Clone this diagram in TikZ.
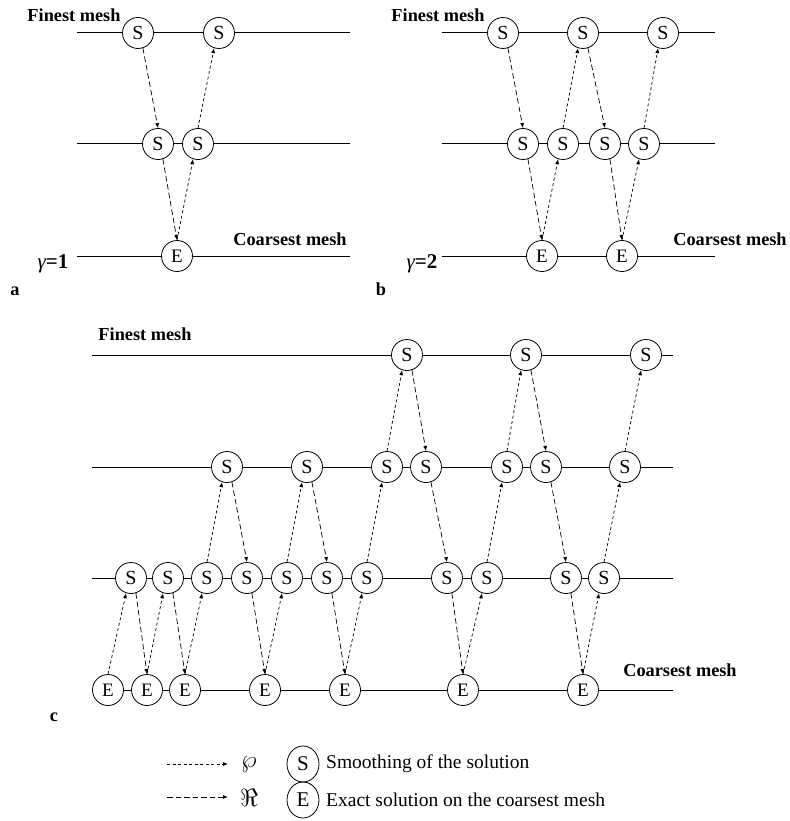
\documentclass[tikz,border=0pt]{standalone}
\usepackage{fontspec}
\setmainfont{Liberation Serif}
\usetikzlibrary{arrows.meta,shapes.geometric}
\begin{document}
\begin{tikzpicture}[x=1pt,y=-1pt,
  mesh/.style={line width=1pt},
  snode/.style={circle,draw,line width=0.8pt,fill=white,minimum size=31pt,inner sep=0pt,font=\fontsize{20}{20}\selectfont},
  enode/.style={snode,font=\fontsize{19}{19}\selectfont},
  pro/.style={line width=0.7pt,dash pattern=on 3pt off 2.5pt,-{Latex[length=5pt,width=4pt]}},
  res/.style={line width=0.7pt,dash pattern=on 5.5pt off 3pt,-{Latex[length=5pt,width=4pt]}},
  lbl/.style={font=\fontsize{18.3}{20}\selectfont\bfseries,anchor=base,inner sep=0pt},
  glbl/.style={font=\fontsize{21}{22}\selectfont\bfseries,anchor=base,inner sep=0pt},
  leg/.style={font=\fontsize{19.5}{21}\selectfont,anchor=west,inner sep=0pt},
  lellipse/.style={ellipse,draw,line width=0.8pt,minimum width=32pt,minimum height=36pt,inner sep=0pt,font=\fontsize{21}{21}\selectfont},
  sym/.style={font=\fontsize{27}{28}\selectfont,inner sep=0pt}
]
\useasboundingbox (0,0) rectangle (789,821);
\newcommand{\dn}[2]{\draw[res] (#1.-72) -- (#2.north);}
\newcommand{\up}[2]{\draw[pro] (#1.north) -- (#2.-108);}

% ---------- panel a ----------
\draw[mesh] (77,33) -- (350,33);
\draw[mesh] (77,144) -- (350,144);
\draw[mesh] (77,256) -- (350,256);
\node[snode] (a1) at (138,33) {S};
\node[snode] (a2) at (219,33) {S};
\node[snode] (a3) at (158,144) {S};
\node[snode] (a4) at (198,144) {S};
\node[enode] (a5) at (177,256) {E};
\dn{a1}{a3} \dn{a3}{a5} \up{a5}{a4} \up{a4}{a2}
\node[lbl] (fa) at (74,21.5) {Finest mesh};
\node[lbl] (ca) at (290,245) {Coarsest mesh};
\node[glbl] (ga) at (53,268) {{\mdseries\itshape γ}=1};
\node[lbl] (la) at (15,295) {a};

% ---------- panel b ----------
\draw[mesh] (442,33) -- (715,33);
\draw[mesh] (442,144) -- (715,144);
\draw[mesh] (442,256) -- (715,256);
\node[snode] (b1) at (503,33) {S};
\node[snode] (b2) at (583,33) {S};
\node[snode] (b3) at (663,33) {S};
\node[snode] (b4) at (523,144) {S};
\node[snode] (b5) at (563,144) {S};
\node[snode] (b6) at (605,144) {S};
\node[snode] (b7) at (644,144) {S};
\node[enode] (b8) at (542,256) {E};
\node[enode] (b9) at (622,256) {E};
\dn{b1}{b4} \dn{b4}{b8} \up{b8}{b5} \up{b5}{b2}
\dn{b2}{b6} \dn{b6}{b9} \up{b9}{b7} \up{b7}{b3}
\node[lbl] (fb) at (438,21.5) {Finest mesh};
\node[lbl] (cb) at (730,245) {Coarsest mesh};
\node[glbl] (gb) at (422,268) {{\mdseries\itshape γ}=2};
\node[lbl] (lb) at (381,295) {b};

% ---------- panel c ----------
\draw[mesh] (92,355) -- (673,355);
\draw[mesh] (92,467) -- (673,467);
\draw[mesh] (92,578) -- (673,578);
\draw[mesh] (92,690) -- (673,690);
\node[snode] (t1) at (407,355) {S};
\node[snode] (t2) at (526,355) {S};
\node[snode] (t3) at (646,355) {S};
\node[snode] (m1) at (227,467) {S};
\node[snode] (m2) at (307,467) {S};
\node[snode] (m3) at (387,467) {S};
\node[snode] (m4) at (426,467) {S};
\node[snode] (m5) at (507,467) {S};
\node[snode] (m6) at (546,467) {S};
\node[snode] (m7) at (625,467) {S};
\node[snode] (n1) at (131,578) {S};
\node[snode] (n2) at (168,578) {S};
\node[snode] (n3) at (207,578) {S};
\node[snode] (n4) at (247,578) {S};
\node[snode] (n5) at (287,578) {S};
\node[snode] (n6) at (327,578) {S};
\node[snode] (n7) at (367,578) {S};
\node[snode] (n8) at (447,578) {S};
\node[snode] (n9) at (487,578) {S};
\node[snode] (n10) at (566,578) {S};
\node[snode] (n11) at (604,578) {S};
\node[enode] (e1) at (108,690) {E};
\node[enode] (e2) at (147,690) {E};
\node[enode] (e3) at (185,690) {E};
\node[enode] (e4) at (265,690) {E};
\node[enode] (e5) at (345,690) {E};
\node[enode] (e6) at (463,690) {E};
\node[enode] (e7) at (583,690) {E};
\up{e1}{n1} \dn{n1}{e2} \up{e2}{n2} \dn{n2}{e3} \up{e3}{n3}
\up{n3}{m1} \dn{m1}{n4} \dn{n4}{e4} \up{e4}{n5} \up{n5}{m2}
\dn{m2}{n6} \dn{n6}{e5} \up{e5}{n7} \up{n7}{m3} \up{m3}{t1}
\dn{t1}{m4} \dn{m4}{n8} \dn{n8}{e6} \up{e6}{n9} \up{n9}{m5}
\up{m5}{t2} \dn{t2}{m6} \dn{m6}{n10} \dn{n10}{e7} \up{e7}{n11}
\up{n11}{m7} \up{m7}{t3}
\node[lbl] (fc) at (145,340) {Finest mesh};
\node[lbl] (cc) at (680,676) {Coarsest mesh};
\node[lbl] (lc) at (54,721) {c};

% ---------- legend ----------
\coordinate (p0) at (167,764);
\coordinate (p1) at (228,764);
\coordinate (r0) at (167,797);
\coordinate (r1) at (228,797);
\draw[pro] (p0) -- (p1);
\draw[res] (r0) -- (r1);
\node[sym] (wp) at (249,765) {$\wp$};
\node[sym] (re) at (249,798) {$\Re$};
\node[lellipse] (ls) at (303,764) {S};
\node[lellipse] (le) at (303,800) {E};
\node[leg] (ts) at (326,764) {Smoothing of the solution};
\node[leg] (te) at (326,800) {Exact solution on the coarsest mesh};
\end{tikzpicture}
\end{document}
